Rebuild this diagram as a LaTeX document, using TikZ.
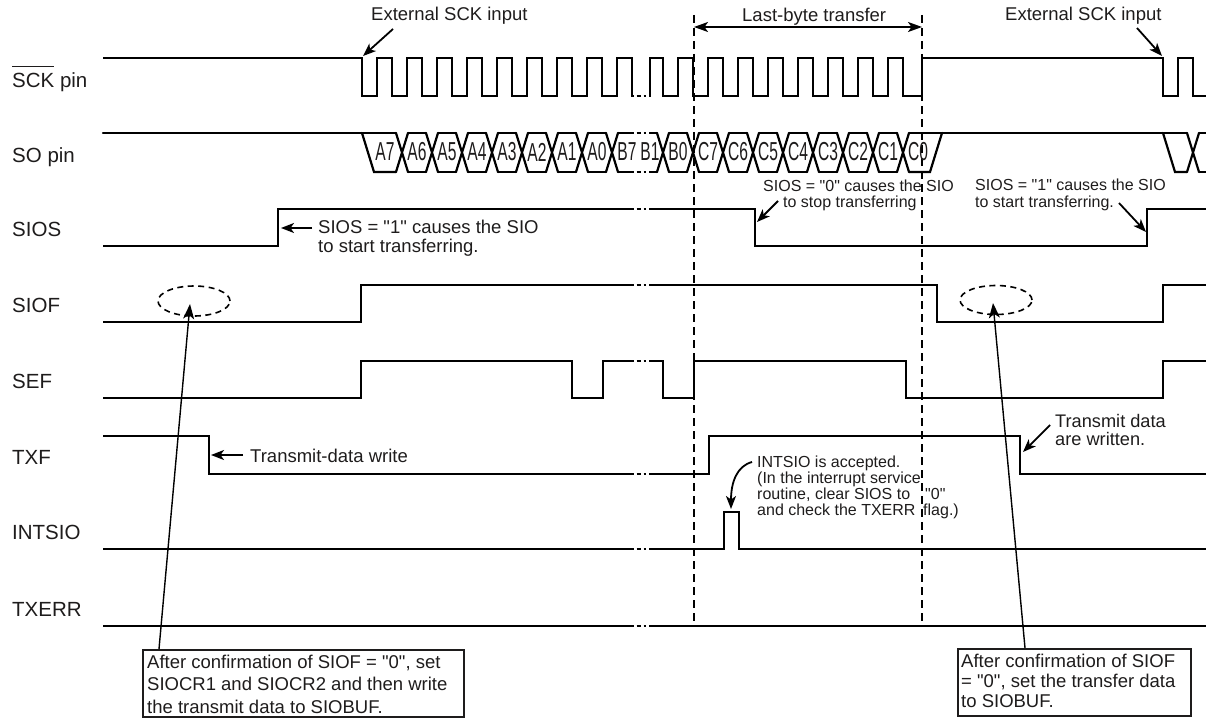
\documentclass[tikz,border=0pt]{standalone}
\usepackage{fontspec}
\usepackage{graphicx}
\setmainfont{Liberation Sans}
\usetikzlibrary{arrows.meta,shapes.geometric}
\definecolor{ink}{RGB}{30,28,28}
\newcommand\dq{\XeTeXglyph\the\XeTeXcharglyph"22\relax}
\newcommand\brk[1]{%
  \fill[white] (634,#1-3.6) rectangle (648.5,#1+3.6);
  \draw[sig] (636.5,#1) -- (641,#1);
  \draw[sig] (643.5,#1) -- (646,#1);}
\begin{document}
\begin{tikzpicture}[x=1pt,y=-1pt,
 sig/.style={line width=2.5pt,draw=black},
 so/.style={line width=2.2pt,line cap=round},
 vdash/.style={line width=2pt,dash pattern=on 8pt off 5pt},
 edash/.style={line width=1.6pt,dash pattern=on 6pt off 4.5pt},
 ann/.style={line width=1.8pt,-{Stealth[length=13pt,width=10pt,inset=3.5pt]}},
 lead/.style={line width=1.4pt,-{Stealth[length=15pt,width=11pt,inset=4pt]}},
 lbl/.style={anchor=base west,inner sep=0,text=ink,font=\fontsize{20.5}{22}\selectfont},
 t18/.style={anchor=base west,inner sep=0,align=left,text=ink,font=\fontsize{18.5}{19}\selectfont},
 t16/.style={anchor=base west,inner sep=0,align=left,text=ink,font=\fontsize{16}{16}\selectfont},
 solbl/.style={inner sep=0,text=ink,font=\fontsize{26}{26}\selectfont},
 boxn/.style={draw=ink,line width=1.8pt,anchor=north west,inner sep=0},
]
\useasboundingbox (0,0) rectangle (1206,717);

% ---------- signal names
\node[lbl] (lsck) at (12,87) {\rlap{\rule[19.5pt]{42.2pt}{1.4pt}}SCK pin};
\node[lbl] (lso) at (12,162) {SO pin};
\node[lbl] (lsios) at (12,236) {SIOS};
\node[lbl] (lsiof) at (12,312) {SIOF};
\node[lbl] (lsef) at (12,388) {SEF};
\node[lbl] (ltxf) at (12,464) {TXF};
\node[lbl] (lint) at (12,539) {INTSIO};
\node[lbl] (ltxe) at (12,616) {TXERR};

% ---------- dashed markers
\coordinate (d1t) at (694,15); \coordinate (d1b) at (694,626);
\coordinate (d2t) at (922,15); \coordinate (d2b) at (922,626);
\draw[vdash] (d1t) -- (d1b);
\draw[vdash] (d2t) -- (d2b);
\coordinate (la) at (694,27); \coordinate (lb) at (922,27);
\draw[line width=1.8pt,{Stealth[length=14pt,width=10pt,inset=3.5pt]}-{Stealth[length=14pt,width=10pt,inset=3.5pt]}] (la) -- (lb);

% ---------- SCK
\draw[sig] (103,58) -- (362,58)
 \foreach \i in {0,...,8}{ -- ({362+30*\i},58) -- ({362+30*\i},96) -- ({377+30*\i},96) -- ({377+30*\i},58) }
 -- (632,58) -- (632,96) -- (650,96) -- (650,58)
 \foreach \i in {0,...,7}{ -- ({663+30*\i},58) -- ({663+30*\i},96) -- ({678+30*\i},96) -- ({678+30*\i},58) }
 -- (903,58) -- (903,96) -- (922,96) -- (922,58) -- (1163,58) -- (1163,96) -- (1178,96) -- (1178,58)
 -- (1193,58) -- (1193,96) -- (1206,96);
\brk{96}

% ---------- SO
\draw[so] (103,133) -- (396,133);
\draw[so] (362,133) -- (374,172) -- (396,172);
\foreach \c in {402,432,...,612} {\draw[so] (\c-6,133) -- (\c+6,172) (\c-6,172) -- (\c+6,133);}
\foreach \c in {402,432,...,582} {\draw[so] (\c+6,133) -- (\c+24,133) (\c+6,172) -- (\c+24,172);}
\draw[so] (618,133) -- (657,133) (618,172) -- (657,172);
\foreach \c in {663,693,...,903} {\draw[so] (\c-6,133) -- (\c+6,172) (\c-6,172) -- (\c+6,133);}
\foreach \c in {663,693,...,873} {\draw[so] (\c+6,133) -- (\c+24,133) (\c+6,172) -- (\c+24,172);}
\draw[so] (909,133) -- (1187,133);
\draw[so] (909,172) -- (930,172) -- (942,133);
\draw[so] (1163,133) -- (1175,172) -- (1187,172);
\draw[so] (1187,133) -- (1199,172) (1187,172) -- (1199,133);
\draw[so] (1199,133) -- (1206,133) (1199,172) -- (1206,172);
\brk{133}\brk{172}
\foreach \x/\t [count=\n] in {385/A7,417/A6,447/A5,477/A4,507/A3,537/A2,567/A1,597/A0,627/B7,650/B1,678/B0,708/C7,738/C6,768/C5,798/C4,828/C3,858/C2,888/C1,918/C0}
  \node[solbl] (so\n) at (\x,152) {\scalebox{0.6}[1]{\t}};

% ---------- SIOS
\draw[sig] (103,246) -- (278,246) -- (278,209) -- (755,209) -- (755,246) -- (1147,246) -- (1147,209) -- (1206,209);
\brk{209}
% ---------- SIOF
\draw[sig] (103,322) -- (361,322) -- (361,285) -- (937,285) -- (937,322) -- (1163,322) -- (1163,285) -- (1206,285);
\brk{285}
% ---------- SEF
\draw[sig] (103,398) -- (361,398) -- (361,361) -- (572,361) -- (572,398) -- (603,398) -- (603,361) -- (663,361) -- (663,398) -- (694,398) -- (694,361) -- (906,361) -- (906,398) -- (1163,398) -- (1163,361) -- (1206,361);
\brk{361}
% ---------- TXF
\draw[sig] (103,436) -- (209,436) -- (209,474) -- (709,474) -- (709,436) -- (1020,436) -- (1020,474) -- (1206,474);
\brk{474}
% ---------- INTSIO
\draw[sig] (103,549) -- (724,549) -- (724,512) -- (739,512) -- (739,549) -- (1206,549);
\brk{549}
% ---------- TXERR
\draw[sig] (103,626) -- (1206,626);
\brk{626}

% ---------- annotations
\node[t18] (ext1) at (371,21) {External SCK input};
\coordinate (e1a) at (393,29); \coordinate (e1b) at (363,56);
\draw[ann] (e1a) -- (e1b);
\node[t18] (ext2) at (1005,21) {External SCK input};
\coordinate (e2a) at (1137,28); \coordinate (e2b) at (1162,56);
\draw[ann] (e2a) -- (e2b);
\node[t18] (lbt) at (742,22) {Last-byte transfer};

\node[t18] (s1l) at (318,252) {SIOS = \dq1\dq{} causes the SIO\\to start transferring.};
\coordinate (s1la) at (312,228); \coordinate (s1lb) at (281,228);
\draw[ann] (s1la) -- (s1lb);

\node[t16] (s0a) at (763,191) {SIOS = \dq0\dq{} causes the SIO};
\node[t16] (s0b) at (783,207) {to stop transferring};
\coordinate (s0p) at (778,201); \coordinate (s0q) at (757,222);
\draw[ann] (s0p) -- (s0q);

\node[t16,font=\fontsize{16}{17}\selectfont] (s1r) at (975,207) {SIOS = \dq1\dq{} causes the SIO\\to start transferring.};
\coordinate (s1ra) at (1119,203); \coordinate (s1rb) at (1146,232);
\draw[ann] (s1ra) -- (s1rb);

\node[t18] (txw) at (250,462) {Transmit-data write};
\coordinate (txwa) at (243,455); \coordinate (txwb) at (211,455);
\draw[ann] (txwa) -- (txwb);

\node[t18,font=\fontsize{18.2}{18}\selectfont] (txr) at (1055,445) {Transmit data\\are written.};
\coordinate (txra) at (1050,425); \coordinate (txrb) at (1023,452);
\draw[ann] (txra) -- (txrb);

\node[t16] (intxt) at (757,515) {INTSIO is accepted.\\(In the interrupt service\\routine, clear SIOS to\\and check the TXERR};
\node[t16] (q0) at (925,499) {\dq0\dq};
\node[t16] (flg) at (923,515) {flag.)};
\coordinate (ia) at (752,462); \coordinate (ib) at (731,509);
\draw[ann] (ia) .. controls (737,466) and (731,482) .. (ib);

% ---------- ellipses and boxes
\node[ellipse,draw,edash,minimum width=72pt,minimum height=30pt,inner sep=0] (ellL) at (194,301) {};
\node[ellipse,draw,edash,minimum width=72pt,minimum height=29pt,inner sep=0] (ellR) at (996,300) {};

\node[boxn,minimum width=321pt,minimum height=67pt] (boxL) at (142,649) {};
\node[anchor=base west,inner sep=0,align=left,text=ink,font=\fontsize{18.5}{22.5}\selectfont] (txtL) at (147,713)
  {After confirmation of SIOF = \dq0\dq, set\\SIOCR1 and SIOCR2 and then write\\the transmit data to SIOBUF.};
\node[boxn,minimum width=233pt,minimum height=67pt] (boxR) at (957,648) {};
\node[anchor=base west,inner sep=0,align=left,text=ink,font=\fontsize{18.5}{20}\selectfont] (txtR) at (961,707)
  {After confirmation of SIOF\\= \dq0\dq, set the transfer data\\to SIOBUF.};

\coordinate (footL) at (159,649); \coordinate (tipL) at (190,304);
\draw[lead] (footL) -- (tipL);
\coordinate (footR) at (1025,648); \coordinate (tipR) at (993,303);
\draw[lead] (footR) -- (tipR);
\end{tikzpicture}
\end{document}
